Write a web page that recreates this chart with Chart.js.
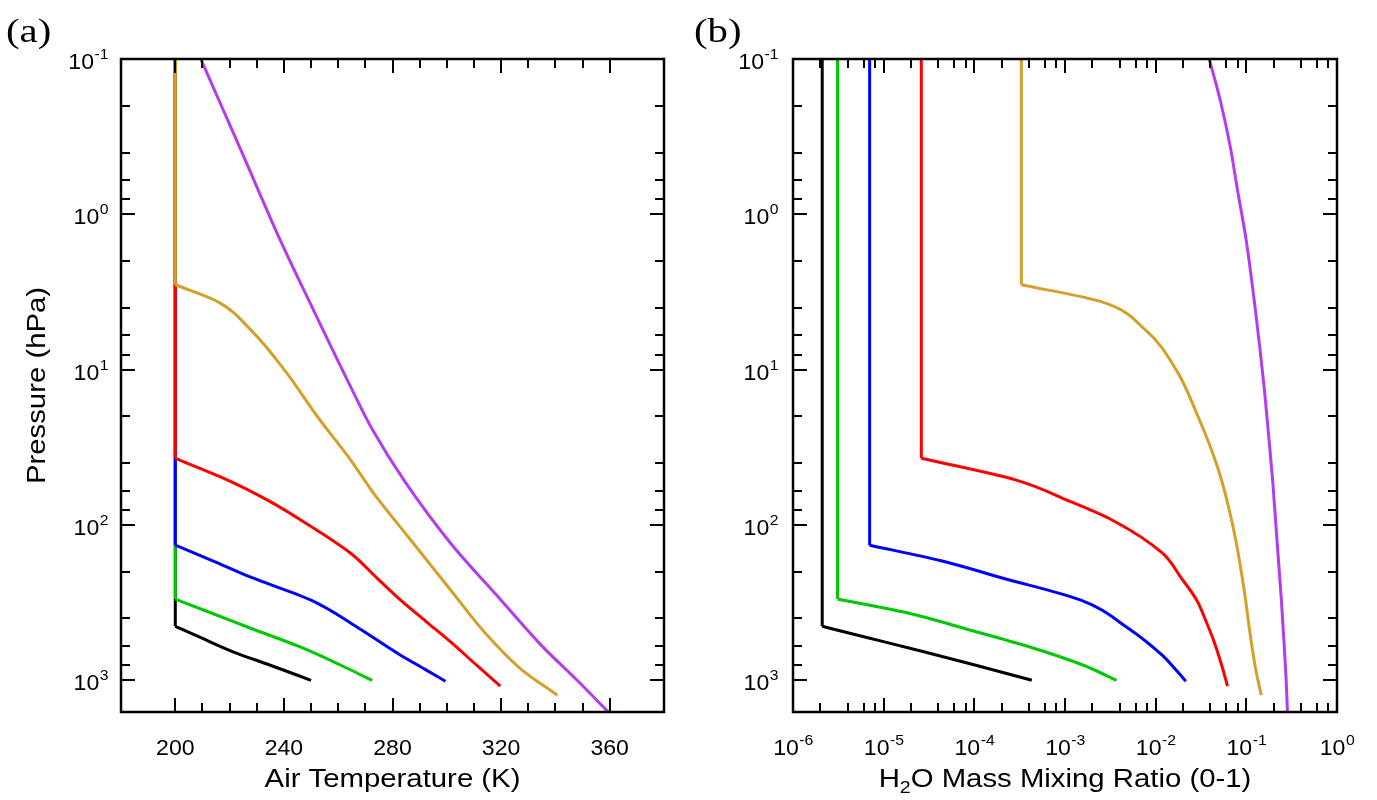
<!DOCTYPE html>
<html>
<head>
<meta charset="utf-8">
<script src="https://cdn.jsdelivr.net/npm/chart.js@4.4.1/dist/chart.umd.min.js"></script>
<style>
  html, body { margin: 0; padding: 0; background: #fff; overflow: hidden; }
  #wrap { position: relative; width: 1377px; height: 800px; }
  canvas { position: absolute; top: 0; }
  #chartA { left: 0; }
  #chartB { left: 688px; }
</style>
</head>
<body>
<div id="wrap">
  <canvas id="chartA" width="688" height="800"></canvas>
  <canvas id="chartB" width="689" height="800"></canvas>
</div>
<script>
// surface temperatures of the six profiles
const profileNames = ['250 K', '273 K', '300 K', '320 K', '340 K', '360 K'];
const profileColors = ['#000000', '#00c800', '#0000ff', '#ff0000', '#d4a02a', '#b43cf0'];
// index of the tropopause point (0 = no isothermal top)
const tropIndex = [1, 1, 1, 1, 1, 0];

// pressure levels (hPa), air temperature (K), H2O mass mixing ratio for each profile
const pBlack = [0.1, 449, 528, 658, 800, 1000];
const tBlack = [200, 200, 209, 221.5, 235, 250];
const qBlack = [2.1e-6, 2.1e-6, 6.35e-6, 2.84e-5, 1.04e-4, 4.3e-4];

const pGreen = [0.1, 300, 370, 464, 610, 800, 1000];
const tGreen = [200, 200, 213.5, 228, 246, 261, 272.5];
const qGreen = [3.1e-6, 3.1e-6, 1.9e-5, 7.8e-5, 4.1e-4, 1.6e-3, 3.7e-3];

const pBlue = [0.1, 135, 170, 217, 305, 455, 689, 850, 1014];
const tBlue = [200, 200, 213.8, 227.8, 250, 267, 283, 292, 299.5];
const qBlue = [7.0e-6, 7.0e-6, 4.3e-5, 1.9e-4, 1.5e-3, 4.8e-3, 0.0118, 0.0165, 0.0215];

const pRed = [0.1, 37.2, 51.4, 70, 92.9, 152, 220, 305, 420, 566, 800, 1091];
const tRed = [200, 200, 219.3, 234.5, 246.2, 264.6, 274.3, 283, 292.5, 301.4, 311, 319.7];
const qRed = [2.6e-5, 2.6e-5, 2.9e-4, 1.1e-3, 3.3e-3, 0.0119, 0.0192, 0.0284, 0.0361, 0.0442, 0.0535, 0.062];

const pGold = [0.1, 2.84, 3.65, 5.55, 10, 20.1, 38.2, 62.3, 120, 262, 500, 850, 1247];
const tGold = [200, 200, 215.6, 227.8, 240.1, 252.4, 264.6, 273, 285.9, 301.4, 314.3, 327.4, 340.7];
const qGold = [3.3e-4, 3.3e-4, 2.5e-3, 7.7e-3, 0.0168, 0.0294, 0.0453, 0.0583, 0.0754, 0.0946, 0.110, 0.1268, 0.146];

const pPurple = [0.1, 0.183, 0.366, 0.695, 1.46, 4, 12.9, 24.5, 51.4, 131, 300, 600, 1000, 1600];
const tPurple = [209.4, 216, 223.6, 230.5, 238.6, 250.5, 264.6, 272.7, 284.2, 301.4, 319.6, 335, 348, 359.5];
const qPurple = [0.039, 0.0514, 0.0664, 0.0798, 0.0995, 0.125, 0.157, 0.174, 0.195, 0.219, 0.243, 0.262, 0.275, 0.284];

const pressures = [pBlack, pGreen, pBlue, pRed, pGold, pPurple];
const temps = [tBlack, tGreen, tBlue, tRed, tGold, tPurple];
const mixing = [qBlack, qGreen, qBlue, qRed, qGold, qPurple];

// ticks
const tempTicks = [200, 240, 280, 320, 360];
const tempMinor = [210, 220, 230, 250, 260, 270, 290, 300, 310, 330, 340, 350];
const presTicks = [0.1, 1, 10, 100, 1000];
const presLabels = ['-1', '0', '1', '2', '3'];
const presMinor = [0.2, 0.4, 0.6, 0.8, 2, 4, 6, 8, 20, 40, 60, 80, 200, 400, 600, 800];
const mixTicks = [1e-6, 1e-5, 1e-4, 1e-3, 1e-2, 1e-1, 1];
const mixLabels = ['-6', '-5', '-4', '-3', '-2', '-1', '0'];
const mixMinor = [];
[1e-6, 1e-5, 1e-4, 1e-3, 1e-2, 1e-1].forEach(d => [2, 4, 6, 8].forEach(m => mixMinor.push(m * d)));

const FONT = '"Liberation Sans", Arial, sans-serif';
const SERIF = '"Liberation Serif", "Times New Roman", serif';
const TICK_SIZE = 22;
const TICK_SX = 1.05;
const SUP_SIZE = 15;
const TITLE_SIZE = 25.5;
const TITLE_SX = 1.15;

function drawText(ctx, s, x, y, size, align, family, sx) {
  ctx.save();
  ctx.font = size + 'px ' + (family || FONT);
  ctx.translate(x, y);
  ctx.scale(sx || 1, 1);
  ctx.textAlign = align || 'left';
  ctx.textBaseline = 'alphabetic';
  ctx.fillText(s, 0, 0);
  ctx.restore();
}
function widthOf(ctx, s, size, sx, family) {
  ctx.font = size + 'px ' + (family || FONT);
  return ctx.measureText(s).width * (sx || 1);
}
// "10" with a raised exponent
function powLabel(ctx, exp, x, y, align) {
  const w1 = widthOf(ctx, '10', TICK_SIZE, TICK_SX), w2 = widthOf(ctx, exp, SUP_SIZE, TICK_SX);
  const x0 = align === 'right' ? x - w1 - w2 : x - (w1 + w2) / 2;
  drawText(ctx, '10', x0, y, TICK_SIZE, 'left', FONT, TICK_SX);
  drawText(ctx, exp, x0 + w1 + 0.5, y - 10, SUP_SIZE, 'left', FONT, TICK_SX);
}

const axesFrame = {
  id: 'axesFrame',
  afterDraw(chart, args, o) {
    const ctx = chart.ctx, a = chart.chartArea;
    const xs = chart.scales.x, ys = chart.scales.y;
    ctx.save();
    ctx.strokeStyle = '#000';
    ctx.fillStyle = '#000';
    ctx.lineWidth = 2;
    ctx.beginPath();
    const xTick = (v, len) => {
      const px = Math.round(xs.getPixelForValue(v));
      ctx.moveTo(px, a.bottom); ctx.lineTo(px, a.bottom - len);
      ctx.moveTo(px, a.top); ctx.lineTo(px, a.top + len);
    };
    const yTick = (v, len) => {
      const py = Math.round(ys.getPixelForValue(v));
      ctx.moveTo(a.left, py); ctx.lineTo(a.left + len, py);
      ctx.moveTo(a.right, py); ctx.lineTo(a.right - len, py);
    };
    o.xMajor.forEach(v => xTick(v, 14));
    o.xMinor.forEach(v => xTick(v, 9));
    presTicks.forEach(v => yTick(v, 14));
    presMinor.forEach(v => yTick(v, 9));
    ctx.stroke();
    ctx.lineWidth = 2.5;
    ctx.strokeRect(a.left, a.top, a.right - a.left, a.bottom - a.top);

    // tick labels
    o.xMajor.forEach((v, i) => {
      const px = xs.getPixelForValue(v);
      if (o.xLog) powLabel(ctx, o.xLabels[i], px, 755, 'center');
      else drawText(ctx, String(v), px, 755, TICK_SIZE, 'center', FONT, TICK_SX);
    });
    presTicks.forEach((v, i) => {
      const py = ys.getPixelForValue(v);
      powLabel(ctx, presLabels[i], a.left - o.yGap, py + 10, 'right');
    });

    // axis titles
    const cx = (a.left + a.right) / 2;
    if (o.xLog) {
      const parts = ['H', '2', 'O Mass Mixing Ratio (0-1)'];
      const w0 = widthOf(ctx, parts[0], TITLE_SIZE, TITLE_SX);
      const w1 = widthOf(ctx, parts[1], 17, TITLE_SX);
      const w2 = widthOf(ctx, parts[2], TITLE_SIZE, TITLE_SX);
      const x0 = cx - (w0 + w1 + w2) / 2;
      drawText(ctx, parts[0], x0, 787, TITLE_SIZE, 'left', FONT, TITLE_SX);
      drawText(ctx, parts[1], x0 + w0, 793, 17, 'left', FONT, TITLE_SX);
      drawText(ctx, parts[2], x0 + w0 + w1, 787, TITLE_SIZE, 'left', FONT, TITLE_SX);
    } else {
      drawText(ctx, o.xTitle, cx, 787, TITLE_SIZE, 'center', FONT, TITLE_SX);
    }
    if (o.yTitle) {
      ctx.save();
      ctx.translate(45, (a.top + a.bottom) / 2);
      ctx.rotate(-Math.PI / 2);
      drawText(ctx, o.yTitle, 0, 0, TITLE_SIZE, 'center', FONT, TITLE_SX);
      ctx.restore();
    }
    // panel letter
    drawText(ctx, o.panel, o.panelX, 42, 34, 'left', SERIF, 1.2);
    ctx.restore();
  }
};

// isothermal top drawn straight, troposphere drawn as a smooth curve
function buildDatasets(xValues) {
  const sets = [];
  pressures.forEach((p, k) => {
    const pts = p.map((pv, i) => ({ x: xValues[k][i], y: pv }));
    const base = {
      label: profileNames[k],
      borderColor: profileColors[k],
      backgroundColor: profileColors[k],
      borderWidth: 3,
      pointRadius: 0,
      showLine: true,
      fill: false,
      indexAxis: 'y',
      order: 6 - k
    };
    const ti = tropIndex[k];
    if (ti > 0) sets.push(Object.assign({}, base, { data: pts.slice(0, ti + 1) }));
    sets.push(Object.assign({}, base, { data: pts.slice(ti), cubicInterpolationMode: 'monotone' }));
  });
  return sets;
}

function yAxis() {
  return { type: 'logarithmic', reverse: true, min: 0.1, max: 1600, display: false };
}

new Chart(document.getElementById('chartA'), {
  type: 'scatter',
  data: { datasets: buildDatasets(temps) },
  options: {
    indexAxis: 'y',
    responsive: false,
    animation: false,
    layout: { padding: { left: 121, top: 59, right: 24, bottom: 88 } },
    scales: {
      x: { type: 'linear', min: 180, max: 380, display: false },
      y: yAxis()
    },
    plugins: {
      legend: { display: false },
      tooltip: { enabled: false },
      axesFrame: {
        xMajor: tempTicks, xMinor: tempMinor, xLog: false,
        xTitle: 'Air Temperature (K)', yTitle: 'Pressure (hPa)',
        yGap: 13, panel: '(a)', panelX: 6
      }
    }
  },
  plugins: [axesFrame]
});

new Chart(document.getElementById('chartB'), {
  type: 'scatter',
  data: { datasets: buildDatasets(mixing) },
  options: {
    indexAxis: 'y',
    responsive: false,
    animation: false,
    layout: { padding: { left: 105, top: 59, right: 40, bottom: 88 } },
    scales: {
      x: { type: 'logarithmic', min: 1e-6, max: 1, display: false },
      y: yAxis()
    },
    plugins: {
      legend: { display: false },
      tooltip: { enabled: false },
      axesFrame: {
        xMajor: mixTicks, xMinor: mixMinor, xLog: true, xLabels: mixLabels,
        yTitle: null, yGap: 15, panel: '(b)', panelX: 6
      }
    }
  },
  plugins: [axesFrame]
});
</script>
</body>
</html>
